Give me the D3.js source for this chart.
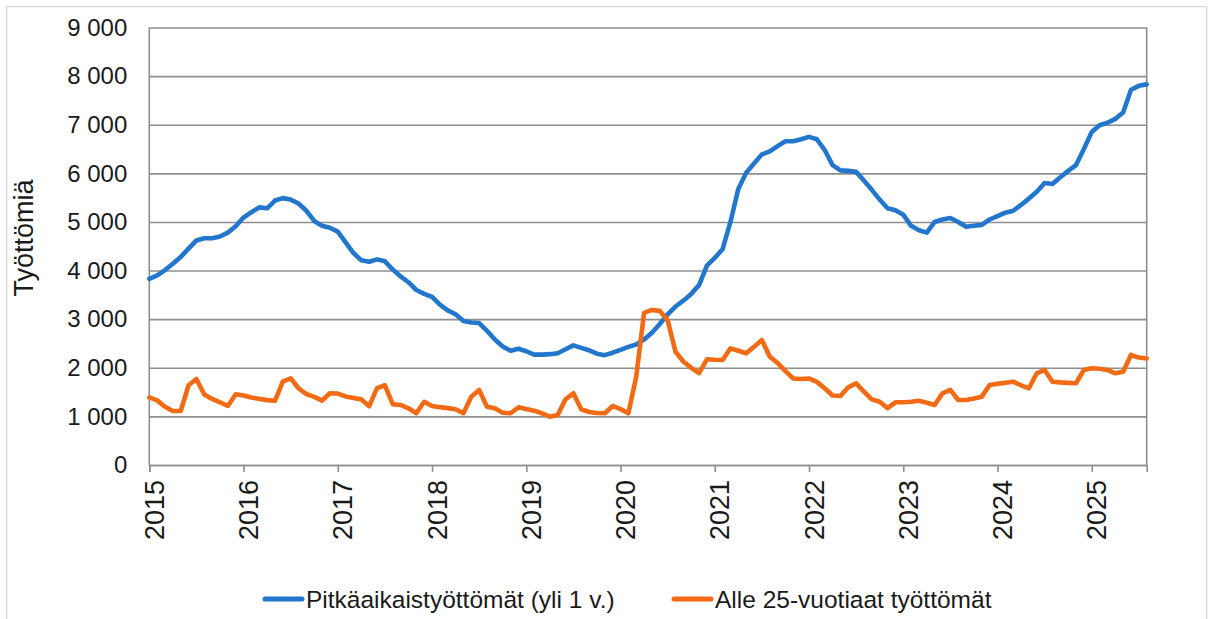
<!DOCTYPE html>
<html>
<head>
<meta charset="utf-8">
<script src="https://cdn.jsdelivr.net/npm/d3@7"></script>
<style>
  body { margin: 0; background: #fff; }
  #chart { width: 1213px; height: 619px; }
  text { font-family: "Liberation Sans", Arial, sans-serif; fill: #1a1a1a; }
</style>
</head>
<body>
<div id="chart"></div>
<script>
// monthly values, Jan 2015 - Aug 2025
const longTerm = [
  3830, 3900, 4010, 4140, 4280, 4450, 4620, 4665, 4665, 4700, 4780, 4910,
  5090, 5200, 5300, 5280, 5440, 5490, 5460, 5380, 5230, 5020, 4920, 4880,
  4800, 4580, 4360, 4210, 4180, 4230, 4190, 4020, 3880, 3760, 3600, 3520,
  3460, 3300, 3180, 3100, 2960, 2930, 2920, 2760, 2580, 2440, 2350, 2390,
  2340, 2270, 2270, 2280, 2300, 2380, 2460, 2410, 2360, 2290, 2260, 2310,
  2370, 2430, 2480, 2580, 2720, 2900, 3100, 3260, 3380, 3520, 3700, 4100,
  4260, 4440, 5000, 5680, 6010, 6200, 6390, 6450, 6560, 6660, 6660, 6700,
  6750, 6700, 6480, 6170, 6060, 6050, 6030, 5850, 5660, 5460, 5280, 5240,
  5150, 4920, 4830, 4780, 5000, 5050, 5080, 5000, 4900, 4920, 4940, 5050,
  5120, 5190, 5230, 5350, 5480, 5620, 5800, 5780, 5920, 6050, 6170, 6500,
  6850, 6990, 7040, 7120, 7250, 7720, 7800, 7830
];
const youth = [
  1390, 1330, 1200, 1110, 1110, 1640, 1770, 1450, 1360, 1290, 1214, 1455,
  1430, 1390, 1360, 1335, 1320, 1714, 1784, 1579, 1460, 1400, 1323, 1475,
  1470, 1410, 1380, 1350, 1210, 1580, 1640, 1250, 1235, 1167, 1064, 1300,
  1214, 1190, 1170, 1146, 1064, 1406, 1544, 1200, 1167, 1076, 1064, 1187,
  1150, 1118, 1064, 994, 1029, 1352, 1475, 1146, 1090, 1070, 1064, 1214,
  1150, 1064, 1817, 3130, 3190, 3170, 2980, 2330, 2130, 2000, 1890, 2175,
  2165, 2160, 2400, 2350, 2300, 2430, 2570, 2230, 2100, 1930, 1780, 1770,
  1780, 1710, 1580, 1430, 1420, 1600, 1680, 1510, 1350, 1300, 1170, 1290,
  1290, 1300, 1320, 1280, 1235, 1475, 1544, 1338, 1338, 1370, 1406, 1646,
  1670, 1690, 1714, 1640, 1578, 1887, 1955, 1714, 1700, 1690, 1681, 1955,
  1990, 1980, 1955, 1887, 1920, 2264, 2210, 2190
];
const yTicks = [0, 1000, 2000, 3000, 4000, 5000, 6000, 7000, 8000, 9000];
const seriesNames = ['Pitkäaikaistyöttömät (yli 1 v.)', 'Alle 25-vuotiaat työttömät'];
const seriesColors = ['#2277cc', '#f26a14'];
const yTitle = 'Työttömiä';

const months = d3.timeMonth.range(new Date(2015, 0, 1), new Date(2015, 0 + longTerm.length, 1));

const width = 1213, height = 619;
const margin = { top: 27.5, right: 66.3, bottom: 154, left: 149.3 };
const innerWidth = width - margin.left - margin.right;
const innerHeight = height - margin.top - margin.bottom;

const svg = d3.select('#chart').append('svg')
  .attr('width', width).attr('height', height)
  .attr('viewBox', [0, 0, width, height]);

// outer frame (bottom edge falls outside the picture)
svg.append('path')
  .attr('d', `M6.5,${height}V6.5H1206.5V${height}`)
  .attr('fill', 'none').attr('stroke', '#d9d9d9').attr('stroke-width', 1.5);

const xScale = d3.scalePoint().domain(months).range([margin.left, width - margin.right]);
const yScale = d3.scaleLinear().domain([0, 9000]).range([height - margin.bottom, margin.top]);

const fiLocale = d3.formatLocale({ decimal: ',', thousands: ' ', grouping: [3], currency: ['', ' €'] });
const yFormat = fiLocale.format(',d');

// y axis + gridlines
const yAxisG = svg.append('g')
  .attr('transform', `translate(${margin.left},0)`)
  .call(d3.axisLeft(yScale).tickValues(yTicks).tickSize(-innerWidth).tickPadding(22).tickFormat(yFormat));
yAxisG.select('.domain').remove();
yAxisG.selectAll('.tick line').attr('stroke', '#8e8e8e').attr('stroke-width', 1.6);
yAxisG.selectAll('.tick text')
  .style('font-size', '24px').attr('fill', '#1a1a1a');

// left & right borders of plot
svg.append('line')
  .attr('x1', margin.left).attr('x2', margin.left)
  .attr('y1', margin.top).attr('y2', height - margin.bottom)
  .attr('stroke', '#8e8e8e').attr('stroke-width', 1.6);
svg.append('line')
  .attr('x1', width - margin.right).attr('x2', width - margin.right)
  .attr('y1', margin.top).attr('y2', height - margin.bottom)
  .attr('stroke', '#8e8e8e').attr('stroke-width', 1.6);

// x axis
const yearTicks = months.filter(d => d.getMonth() === 0);
const xAxisG = svg.append('g')
  .attr('transform', `translate(0,${height - margin.bottom})`)
  .call(d3.axisBottom(xScale).tickValues(yearTicks).tickSize(7).tickFormat(d3.timeFormat('%Y')));
xAxisG.select('.domain').attr('stroke', '#8e8e8e').attr('stroke-width', 1.6);
xAxisG.selectAll('.tick line').attr('stroke', '#8e8e8e').attr('stroke-width', 1.6);
xAxisG.selectAll('.tick text')
  .style('font-size', '27px')
  .attr('fill', '#1a1a1a')
  .attr('text-anchor', 'end')
  .attr('transform', 'rotate(-90)')
  .attr('x', -15)
  .attr('y', 0)
  .attr('dy', '0.52em');

// y title
svg.append('text')
  .attr('transform', `translate(33,238) rotate(-90)`)
  .attr('text-anchor', 'middle')
  .style('font-size', '27px')
  .text(yTitle);

// lines
const line = d3.line()
  .x((d, i) => xScale(months[i]))
  .y(d => yScale(d))
  .curve(d3.curveLinear);

[longTerm, youth].forEach((series, k) => {
  svg.append('path')
    .datum(series)
    .attr('fill', 'none')
    .attr('stroke', seriesColors[k])
    .attr('stroke-width', 4.6)
    .attr('stroke-linejoin', 'round')
    .attr('stroke-linecap', 'round')
    .attr('d', line);
});

// legend
const legendItems = [
  { name: seriesNames[0], color: seriesColors[0], x: 263 },
  { name: seriesNames[1], color: seriesColors[1], x: 672 }
];
const legendG = svg.append('g').attr('transform', 'translate(0,599)');
legendItems.forEach(item => {
  legendG.append('line')
    .attr('x1', item.x + 2).attr('x2', item.x + 39)
    .attr('y1', 0).attr('y2', 0)
    .attr('stroke', item.color).attr('stroke-width', 5)
    .attr('stroke-linecap', 'round');
  legendG.append('text')
    .attr('x', item.x + 43)
    .attr('y', 0)
    .attr('dy', '0.35em')
    .style('font-size', '24.5px')
    .text(item.name);
});
</script>
</body>
</html>
